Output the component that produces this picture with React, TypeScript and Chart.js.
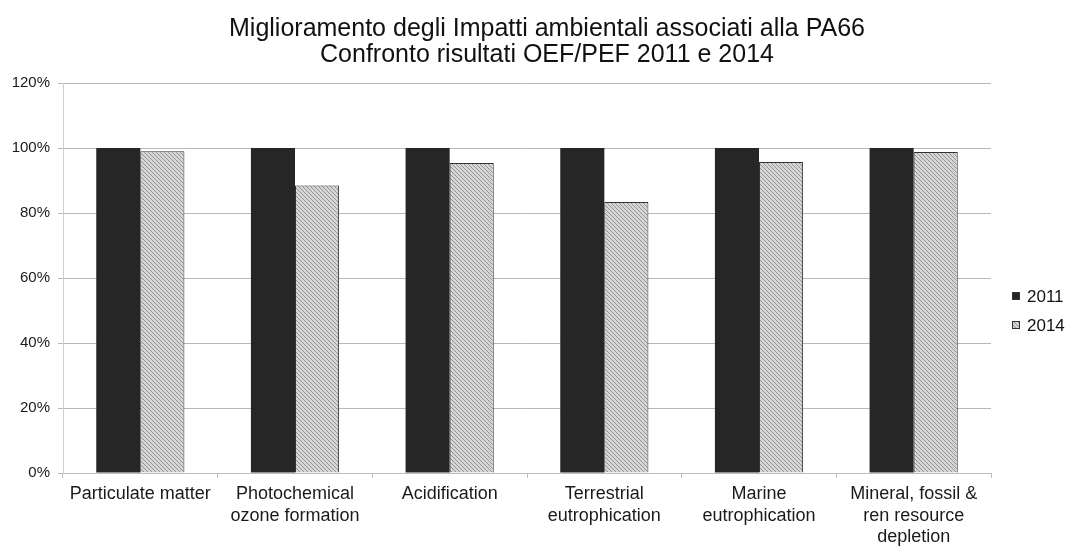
import React, { useEffect, useRef } from "react";
import { Chart, registerables } from "chart.js";

Chart.register(...registerables);

const titleLines = [
  "Miglioramento degli Impatti ambientali associati alla PA66",
  "Confronto risultati OEF/PEF 2011 e 2014",
];
const categories: string[][] = [
  ["Particulate matter"],
  ["Photochemical", "ozone formation"],
  ["Acidification"],
  ["Terrestrial", "eutrophication"],
  ["Marine", "eutrophication"],
  ["Mineral, fossil &", "ren resource", "depletion"],
];
const seriesLabels = ["2011", "2014"];
const values2011 = [100, 100, 100, 100, 100, 100];
const values2014 = [99.0, 88.5, 95.4, 83.4, 95.7, 98.8];
const yTicks = [0, 20, 40, 60, 80, 100, 120];

const FONT = "'Liberation Sans', Arial, sans-serif";

function makeHatch(): CanvasPattern | string {
  const c = document.createElement("canvas");
  c.width = 4;
  c.height = 4;
  const g = c.getContext("2d");
  if (!g) return "#c8c8c8";
  g.fillStyle = "#d6d6d6";
  g.fillRect(0, 0, 4, 4);
  g.fillStyle = "#939393";
  for (let i = 0; i < 4; i++) {
    g.fillRect(i, i, 1, 1);
  }
  const p = g.createPattern(c, "repeat");
  return p || "#c8c8c8";
}

export default function App() {
  const ref = useRef<HTMLCanvasElement | null>(null);

  useEffect(() => {
    if (!ref.current) return;
    const hatch = makeHatch();

    const overlay = {
      id: "overlay",
      afterDraw(chart: any) {
        const ctx = chart.ctx;
        ctx.save();
        // title
        ctx.fillStyle = "#111";
        ctx.font = `25px ${FONT}`;
        ctx.textAlign = "center";
        ctx.textBaseline = "middle";
        ctx.fillText(titleLines[0], 547, 29);
        ctx.fillText(titleLines[1], 547, 55);
        // legend
        ctx.font = `17px ${FONT}`;
        ctx.textAlign = "left";
        chart.data.datasets.forEach((ds: any, i: number) => {
          const y = 296 + i * 29;
          ctx.fillStyle = ds.backgroundColor;
          ctx.fillRect(1012, y - 4, 8, 8);
          ctx.strokeStyle = "#333";
          ctx.lineWidth = 1;
          ctx.strokeRect(1012.5, y - 3.5, 7, 7);
          ctx.fillStyle = "#111";
          ctx.fillText(ds.label, 1027, y + 1);
        });
        ctx.restore();
      },
    };

    const chart = new Chart(ref.current, {
      type: "bar",
      data: {
        labels: categories,
        datasets: [
          {
            label: seriesLabels[0],
            data: values2011,
            backgroundColor: "#262626",
            borderColor: "#262626",
            borderWidth: 0,
            barPercentage: 1,
            categoryPercentage: 0.57,
          },
          {
            label: seriesLabels[1],
            data: values2014,
            backgroundColor: hatch as any,
            borderColor: "#333333",
            borderWidth: 1,
            barPercentage: 1,
            categoryPercentage: 0.57,
          },
        ],
      },
      options: {
        animation: false,
        responsive: true,
        maintainAspectRatio: false,
        layout: { padding: { top: 83, right: 80, left: 0, bottom: 0 } },
        plugins: {
          legend: { display: false },
          title: { display: false },
          tooltip: { enabled: false },
        },
        scales: {
          x: {
            grid: {
              display: true,
              drawOnChartArea: false,
              drawTicks: true,
              tickLength: 5,
              color: "#bdbdbd",
              offset: true,
            },
            border: { color: "#bdbdbd" },
            ticks: {
              color: "#1a1a1a",
              font: { family: FONT, size: 18, lineHeight: 1.17 },
              padding: 6,
              maxRotation: 0,
              autoSkip: false,
            },
            afterFit(scale: any) {
              scale.height = 73;
            },
          },
          y: {
            min: 0,
            max: 120,
            afterBuildTicks(scale: any) {
              scale.ticks = yTicks.map((v) => ({ value: v }));
            },
            grid: {
              color: "#b8b8b8",
              tickLength: 5,
            },
            border: { color: "#cfcfcf" },
            ticks: {
              color: "#1a1a1a",
              font: { family: FONT, size: 15 },
              padding: 8,
              callback: (v: any) => `${v}%`,
            },
            afterFit(scale: any) {
              scale.width = 63;
            },
          },
        },
      },
      plugins: [overlay],
    });
    return () => chart.destroy();
  }, []);

  return (
    <div
      style={{
        position: "fixed",
        left: 0,
        top: 0,
        width: 1071,
        height: 546,
        background: "#fff",
      }}
    >
      <canvas ref={ref} />
    </div>
  );
}
